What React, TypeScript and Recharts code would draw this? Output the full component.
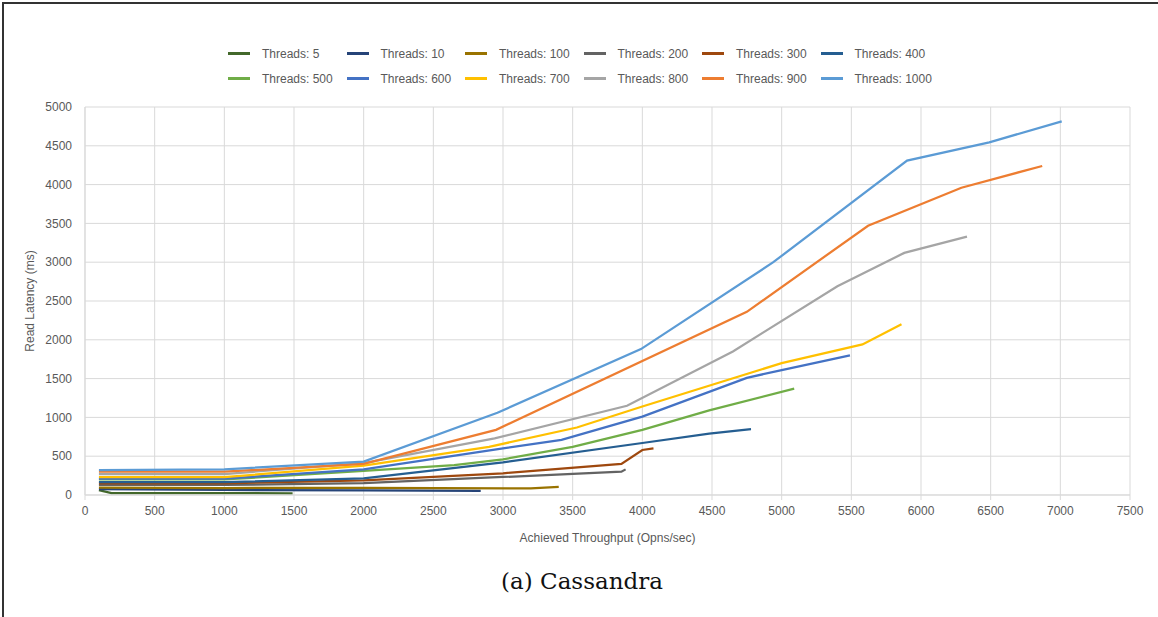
import { LineChart, Line, XAxis, YAxis, CartesianGrid, Legend } from "recharts";

// throughput (ops/sec) and read latency (ms) per thread count
const tput5 = [100, 190, 1000, 1490];
const lat5 = [62, 25, 24, 22];
const tput10 = [100, 1000, 2000, 2840];
const lat10 = [75, 65, 58, 52];
const tput100 = [100, 1000, 2000, 3200, 3400];
const lat100 = [95, 90, 92, 85, 105];
const tput200 = [100, 1000, 2000, 3000, 3850, 3880];
const lat200 = [130, 130, 152, 232, 300, 330];
const tput300 = [100, 1000, 2000, 3000, 3850, 4000, 4080];
const lat300 = [150, 150, 190, 280, 400, 580, 600];
const tput400 = [100, 1000, 2000, 3000, 4000, 4480, 4780];
const lat400 = [165, 165, 215, 420, 670, 790, 850];
const tput500 = [100, 1000, 2000, 2650, 3000, 3500, 4000, 4480, 5090];
const lat500 = [200, 200, 310, 385, 460, 620, 840, 1090, 1370];
const tput600 = [100, 1000, 2000, 3000, 3420, 4000, 4750, 5000, 5490];
const lat600 = [210, 210, 330, 600, 710, 1010, 1510, 1610, 1800];
const tput700 = [100, 1000, 2000, 2900, 3530, 4000, 5000, 5580, 5860];
const lat700 = [230, 230, 380, 620, 870, 1140, 1700, 1940, 2200];
const tput800 = [100, 1000, 2000, 2940, 3890, 4650, 5400, 5880, 6330];
const lat800 = [270, 270, 410, 730, 1150, 1850, 2690, 3120, 3330];
const tput900 = [100, 1000, 2000, 2950, 4750, 5620, 6290, 6870];
const lat900 = [300, 300, 400, 840, 2360, 3470, 3960, 4240];
const tput1000 = [100, 1000, 2000, 2960, 3990, 4940, 5900, 6490, 7010];
const lat1000 = [320, 330, 430, 1060, 1880, 3000, 4310, 4545, 4815];

const seriesNames = [
  "Threads: 5",
  "Threads: 10",
  "Threads: 100",
  "Threads: 200",
  "Threads: 300",
  "Threads: 400",
  "Threads: 500",
  "Threads: 600",
  "Threads: 700",
  "Threads: 800",
  "Threads: 900",
  "Threads: 1000",
];
const throughputs = [tput5, tput10, tput100, tput200, tput300, tput400, tput500, tput600, tput700, tput800, tput900, tput1000];
const latencies = [lat5, lat10, lat100, lat200, lat300, lat400, lat500, lat600, lat700, lat800, lat900, lat1000];

const xTicks = [0, 500, 1000, 1500, 2000, 2500, 3000, 3500, 4000, 4500, 5000, 5500, 6000, 6500, 7000, 7500];
const yTicks = [0, 500, 1000, 1500, 2000, 2500, 3000, 3500, 4000, 4500, 5000];

const COLORS = [
  "#43682b",
  "#264478",
  "#997300",
  "#636363",
  "#9e480e",
  "#255e91",
  "#70ad47",
  "#4472c4",
  "#ffc000",
  "#a5a5a5",
  "#ed7d31",
  "#5b9bd5",
];

const series = seriesNames.map((name, i) => ({
  name,
  color: COLORS[i],
  data: throughputs[i].map((x, j) => ({ x, y: latencies[i][j] })),
}));

const TEXT = "#595959";
const GRID = "#d9d9d9";

function LegendGrid({ payload }: any) {
  // keep the series order, recharts sorts legend items by name
  const items = [...(payload ?? [])].sort(
    (a: any, b: any) => seriesNames.indexOf(a.value) - seriesNames.indexOf(b.value)
  );
  return (
    <div
      style={{
        height: 69,
        paddingTop: 3,
        paddingLeft: 228,
        boxSizing: "border-box",
        display: "grid",
        gridTemplateColumns: "repeat(6, 118.5px)",
        gridAutoRows: 25,
      }}
    >
      {items.map((p: any) => (
        <div
          key={p.value}
          style={{ display: "flex", alignItems: "center", fontSize: 12, color: TEXT, whiteSpace: "nowrap" }}
        >
          <span style={{ width: 22, height: 3, background: p.color, marginRight: 12, flex: "none" }} />
          {p.value}
        </div>
      ))}
    </div>
  );
}

function YTitle({ viewBox }: any) {
  const x = viewBox.x + 10;
  const y = viewBox.y + viewBox.height / 2;
  return (
    <text
      x={x}
      y={y}
      transform={`rotate(-90, ${x}, ${y})`}
      textAnchor="middle"
      dominantBaseline="central"
      fill={TEXT}
      fontSize={12}
    >
      Read Latency (ms)
    </text>
  );
}

export default function App() {
  return (
    <div
      style={{
        position: "absolute",
        left: 0,
        top: 0,
        width: 1158,
        height: 617,
        background: "#fff",
        fontFamily: '"Liberation Sans", Arial, sans-serif',
        overflow: "hidden",
      }}
    >
      <div
        style={{
          position: "absolute",
          left: 2,
          top: 2,
          width: 1160,
          height: 620,
          borderTop: "2px solid #333",
          borderLeft: "2px solid #333",
        }}
      />
      <div style={{ position: "absolute", left: 0, top: 0 }}>
        <LineChart width={1158} height={560} margin={{ top: 38, right: 28, bottom: 15, left: 20 }}>
          <CartesianGrid stroke={GRID} strokeWidth={1} />
          <XAxis
            type="number"
            dataKey="x"
            domain={[0, 7500]}
            ticks={xTicks}
            allowDataOverflow
            height={50}
            stroke={GRID}
            tickLine={{ stroke: GRID }}
            tickSize={5}
            tickMargin={6}
            tick={{ fill: TEXT, fontSize: 12 }}
            label={{ value: "Achieved Throughput (Opns/sec)", position: "insideBottom", offset: 3, fill: TEXT, fontSize: 12 }}
          />
          <YAxis
            type="number"
            domain={[0, 5000]}
            ticks={yTicks}
            allowDataOverflow
            width={65}
            stroke={GRID}
            tickLine={false}
            tickSize={6}
            tickMargin={7}
            tick={{ fill: TEXT, fontSize: 12 }}
            label={{ value: "Read Latency (ms)", content: <YTitle /> }}
          />
          <Legend verticalAlign="top" content={<LegendGrid />} wrapperStyle={{ left: 0, width: 1158, top: 38 }} />
          {series.map((s) => (
            <Line
              key={s.name}
              name={s.name}
              data={s.data}
              dataKey="y"
              type="linear"
              stroke={s.color}
              strokeWidth={2.25}
              dot={false}
              activeDot={false}
              isAnimationActive={false}
            />
          ))}
        </LineChart>
      </div>
      <div
        style={{
          position: "absolute",
          left: 0,
          top: 568,
          width: 1164,
          textAlign: "center",
          fontFamily: '"DejaVu Serif", serif',
          fontSize: 23,
          color: "#111",
        }}
      >
        (a) Cassandra
      </div>
    </div>
  );
}
